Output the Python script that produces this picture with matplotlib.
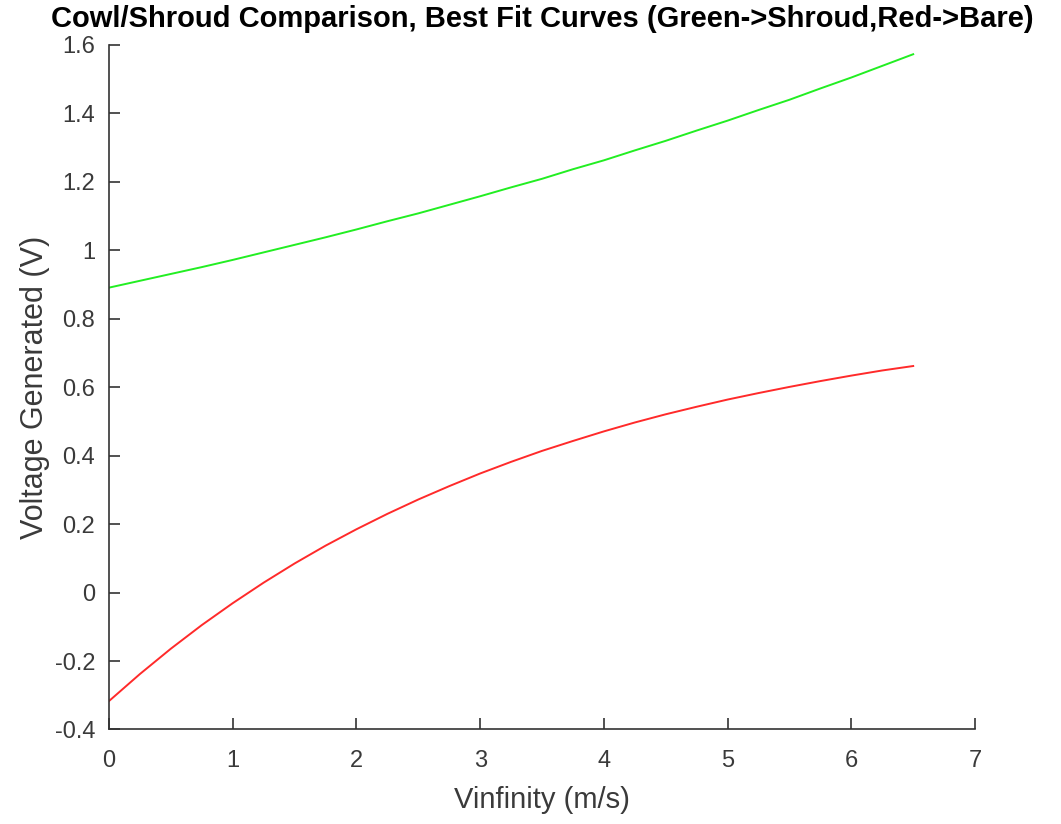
import matplotlib
matplotlib.use("Agg")
import matplotlib.pyplot as plt
from matplotlib.ticker import FuncFormatter

plt.rcParams['font.family'] = ['Liberation Sans', 'DejaVu Sans']
plt.rcParams['axes.unicode_minus'] = False

# values
vinf = [0, 0.25, 0.5, 0.75, 1, 1.25, 1.5, 1.75, 2, 2.25, 2.5, 2.75, 3, 3.25,
        3.5, 3.75, 4, 4.25, 4.5, 4.75, 5, 5.25, 5.5, 5.75, 6, 6.25, 6.5]
shroud = [0.891, 0.911, 0.931, 0.951, 0.972, 0.994, 1.016, 1.038, 1.061,
          1.085, 1.108, 1.133, 1.158, 1.184, 1.209, 1.237, 1.263, 1.292,
          1.320, 1.350, 1.379, 1.410, 1.440, 1.473, 1.505, 1.539, 1.573]
bare = [-0.317, -0.238, -0.164, -0.095, -0.031, 0.029, 0.085, 0.137, 0.185,
        0.230, 0.272, 0.311, 0.348, 0.382, 0.414, 0.443, 0.471, 0.497,
        0.521, 0.543, 0.564, 0.583, 0.601, 0.618, 0.634, 0.649, 0.662]

xticks = [0, 1, 2, 3, 4, 5, 6, 7]
yticks = [-0.4, -0.2, 0, 0.2, 0.4, 0.6, 0.8, 1, 1.2, 1.4, 1.6]

fig = plt.figure(figsize=(10.61, 8.24), dpi=100)
ax = fig.add_axes([0.1027, 0.1147, 0.8163, 0.8307])

ax.plot(vinf, shroud, color='#22ee22', lw=1.4)
ax.plot(vinf, bare, color='#ff2a2a', lw=1.4)

ax.set_xlim(0, 7)
ax.set_ylim(-0.4, 1.6)
ax.set_xticks(xticks)
ax.set_yticks(yticks)
ax.yaxis.set_major_formatter(FuncFormatter(lambda v, p: f'{v:g}'))

for s in ['top', 'right']:
    ax.spines[s].set_visible(False)
for s in ['left', 'bottom']:
    ax.spines[s].set_color('#333333')
    ax.spines[s].set_linewidth(1.2)
ax.tick_params(direction='in', length=8, width=1.2, color='#333333',
               labelcolor='#3a3a3a', labelsize=17)
ax.tick_params(axis='x', pad=15)
ax.tick_params(axis='y', pad=10)

ax.set_xlabel('Vinfinity (m/s)', fontsize=21, color='#3a3a3a', labelpad=10)
ax.set_ylabel('Voltage Generated (V)', fontsize=22, color='#3a3a3a', labelpad=3)
ax.set_title('Cowl/Shroud Comparison, Best Fit Curves (Green->Shroud,Red->Bare)',
             fontsize=21, fontweight='bold', pad=13)

fig.savefig('out.png', dpi=100)
